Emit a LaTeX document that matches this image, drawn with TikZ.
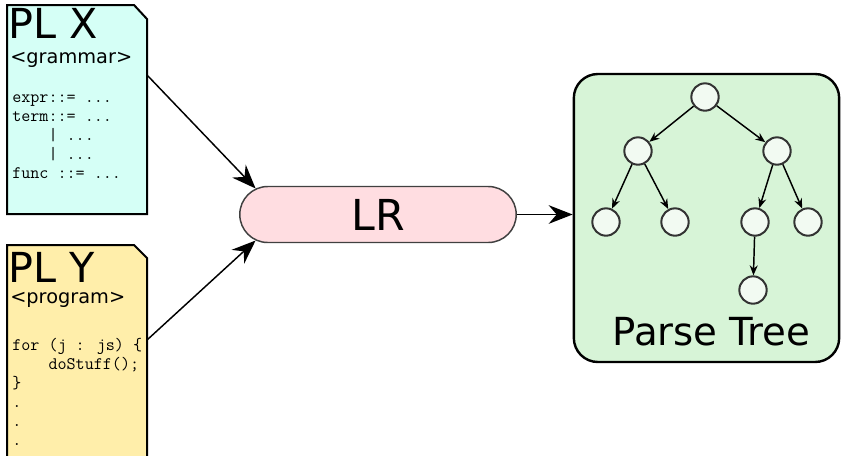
\documentclass[tikz,border=0pt]{standalone}
\usepackage{fontspec}
\setmainfont{DejaVu Sans}
\usetikzlibrary{arrows.meta,shapes.misc}

\definecolor{gramfill}{HTML}{D5FFF6}
\definecolor{progfill}{HTML}{FFEEAA}
\definecolor{lrfill}{HTML}{FFDDE1}
\definecolor{treefill}{HTML}{D7F4D7}
\definecolor{knotfill}{HTML}{F2FAF2}

\newcommand{\codedots}{...}

\tikzset{
    doc/.style={draw=black, line width=1.5pt, line join=miter},
    title/.style={anchor=base west, inner sep=0pt, text depth=0pt, font=\fontsize{31}{31}\selectfont},
    kind/.style={anchor=base west, inner sep=0pt, text height=10pt, font=\fontsize{14.5}{14.5}\selectfont},
    code/.style={anchor=base west, inner sep=0pt, font=\ttfamily\fontsize{13.2}{13.2}\selectfont},
    bigarrow/.style={-{Stealth[length=18pt,width=14pt,inset=6pt]}, line width=1.1pt},
    knot/.style={circle, draw=black!80, fill=knotfill, line width=1.5pt, minimum size=20.5pt, inner sep=0pt},
    branch/.style={-{Stealth[length=7.5pt,width=6pt]}, line width=1.1pt}
}

\begin{document}
\begin{tikzpicture}[x=0.75pt, y=-0.75pt]
    \useasboundingbox (0,0) rectangle (842,455);

    % grammar file
    \draw[doc, fill=gramfill] (7,5) -- (134,5) -- (147,19) -- (147,214) -- (7,214) -- cycle;
    \coordinate (gramout) at (147,75);
    \node[title] (gramtitle) at (8,38) {PL X};
    \node[kind] (gramkind) at (10,63) {<grammar>};
    \foreach \i/\line in {
        0/{expr::= \codedots},
        1/{term::= \codedots},
        2/{\hphantom{term}| \codedots},
        3/{\hphantom{term}| \codedots},
        4/{func ::= \codedots}
    } {
        \node[code] (gramline\i) at (12,102+19*\i) {\line};
    }

    % program file
    \draw[doc, fill=progfill] (7,245) -- (134,245) -- (147,258) -- (147,460) -- (7,460) -- cycle;
    \coordinate (progout) at (147,340);
    \node[title] (progtitle) at (8,282) {PL Y};
    \node[kind] (progkind) at (10,303) {<program>};
    \foreach \i/\line in {
        0/{for (j : js) \{},
        1/{\hphantom{for }doStuff();},
        2/{\}},
        3/{.},
        4/{.},
        5/{.}
    } {
        \node[code] (progline\i) at (12,350+19*\i) {\line};
    }

    % parser
    \node[rounded rectangle, draw=black!75, fill=lrfill, line width=1.1pt,
          minimum width=214pt, minimum height=42pt,
          font=\fontsize{32}{32}\selectfont] (lr) at (378,214.5) {LR};

    % parse tree
    \node[draw=black, fill=treefill, line width=1.8pt, rounded corners=18pt,
          minimum width=199pt, minimum height=216pt] (tree) at (706.5,218) {};
    \node[anchor=base, inner sep=0pt, font=\fontsize{29}{29}\selectfont] (treename) at (711.5,345) {Parse Tree};
    \foreach \name/\x/\y in {
        root/705/97, lft/638/151, rgt/777/151,
        lftl/606/222, lftr/675/222, rgtl/755/222, rgtr/808/222,
        rgtll/753/290
    } {
        \node[knot] (\name) at (\x,\y) {};
    }
    \foreach \from/\to in {root/lft, root/rgt, lft/lftl, lft/lftr, rgt/rgtl, rgt/rgtr, rgtl/rgtll}
        \draw[branch] (\from) -- (\to);

    % arrows
    \draw[bigarrow] (gramout) -- (lr.168);
    \draw[bigarrow] (progout) -- (lr.192);
    \draw[bigarrow] (lr.east) -- (lr.east -| tree.west);
\end{tikzpicture}
\end{document}
